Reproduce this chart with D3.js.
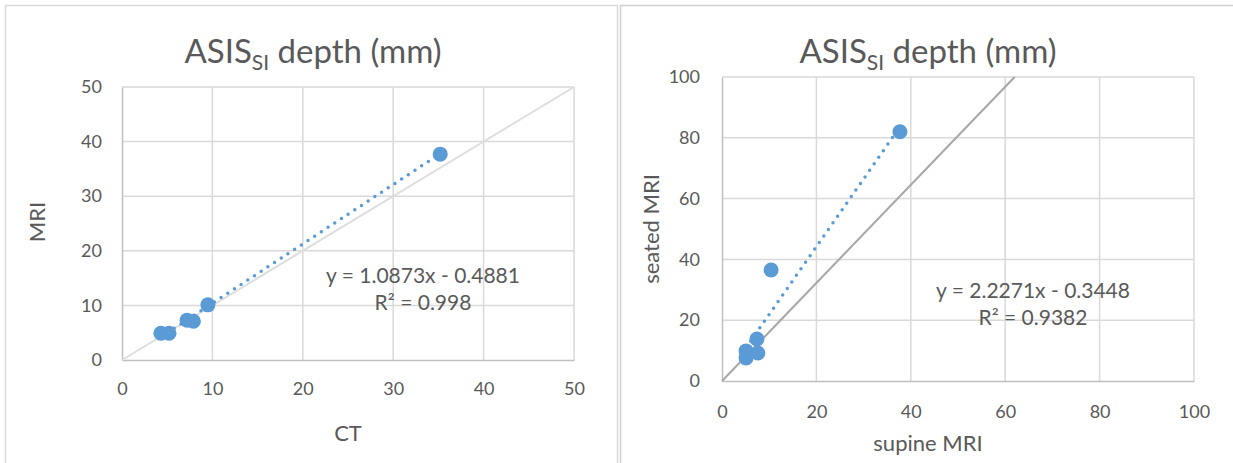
<!DOCTYPE html>
<html>
<head>
<meta charset="utf-8">
<script src="https://cdn.jsdelivr.net/npm/d3@7"></script>
<style>
  body { margin: 0; background: #fff; }
  svg { display: block; font-family: Lato, "Open Sans", sans-serif; }
</style>
</head>
<body>
<div id="chart"></div>
<script>
const width = 1233;
const height = 463;

// left panel: CT vs MRI
const ctValues = [4.3, 5.2, 7.2, 7.9, 9.5, 35.2];
const mriValues = [4.9, 4.9, 7.3, 7.1, 10.1, 37.7];
const leftTicks = [0, 10, 20, 30, 40, 50];
const leftRefLine = [[0, 0], [50, 50]];

// right panel: supine vs seated MRI
const supineValues = [5.1, 5.1, 7.4, 7.6, 10.4, 37.7];
const seatedValues = [9.9, 7.6, 13.8, 9.2, 36.5, 82.0];
const rightTicks = [0, 20, 40, 60, 80, 100];
const rightRefLine = [[0, 0], [62, 100]];

const trendSlopes = [1.0873, 2.2271];
const trendIntercepts = [-0.4881, -0.3448];
const equationLabels = ["y = 1.0873x - 0.4881", "y = 2.2271x - 0.3448"];
const r2Values = ["0.998", "0.9382"];

const textColor = "#595959";
const pointColor = "#5b9bd5";

const svg = d3.create("svg")
    .attr("width", width)
    .attr("height", height);

// chart frames
svg.append("rect")
    .attr("x", 5.5).attr("y", 5.5)
    .attr("width", 612).attr("height", 480)
    .attr("fill", "none").attr("stroke", "#d9d9d9").attr("stroke-width", 1.5);
svg.append("rect")
    .attr("x", 620.5).attr("y", 5.5)
    .attr("width", 640).attr("height", 480)
    .attr("fill", "none").attr("stroke", "#d0d0d0").attr("stroke-width", 1.5);

function drawPanel(p) {
    const x = d3.scaleLinear().domain(p.domain).range(p.xRange);
    const y = d3.scaleLinear().domain(p.domain2).range(p.yRange);
    const g = svg.append("g");

    // gridlines
    g.selectAll(".vgrid")
        .data(p.xTicks.slice(1))
        .join("line")
        .attr("x1", d => x(d)).attr("x2", d => x(d))
        .attr("y1", p.yRange[0]).attr("y2", p.yRange[1])
        .attr("stroke", "#d9d9d9").attr("stroke-width", 1.5);
    g.selectAll(".hgrid")
        .data(p.yTicks.slice(1))
        .join("line")
        .attr("x1", p.xRange[0]).attr("x2", p.xRange[1])
        .attr("y1", d => y(d)).attr("y2", d => y(d))
        .attr("stroke", "#d9d9d9").attr("stroke-width", 1.5);

    // axes
    const xAxis = g.append("g")
        .attr("transform", `translate(0,${p.yRange[0]})`)
        .call(d3.axisBottom(x).tickValues(p.xTicks).tickSize(0).tickPadding(p.xPad));
    const yAxis = g.append("g")
        .attr("transform", `translate(${p.xRange[0]},0)`)
        .call(d3.axisLeft(y).tickValues(p.yTicks).tickSize(0).tickPadding(p.yPad));
    [xAxis, yAxis].forEach(a => {
        a.select(".domain").attr("stroke", "#bfbfbf").attr("stroke-width", 1.5);
        a.selectAll("text")
            .attr("fill", textColor)
            .attr("font-size", "18px")
            .attr("font-family", "Lato, sans-serif");
    });

    // reference line
    g.append("line")
        .attr("x1", x(p.refLine[0][0])).attr("y1", y(p.refLine[0][1]))
        .attr("x2", x(p.refLine[1][0])).attr("y2", y(p.refLine[1][1]))
        .attr("stroke", p.refColor).attr("stroke-width", 2);

    // trendline
    const xs = p.xs;
    const x0 = d3.min(xs), x1 = d3.max(xs);
    g.append("line")
        .attr("x1", x(x0)).attr("y1", y(p.slope * x0 + p.intercept))
        .attr("x2", x(x1)).attr("y2", y(p.slope * x1 + p.intercept))
        .attr("stroke", pointColor).attr("stroke-width", 3.5)
        .attr("stroke-linecap", "round")
        .attr("stroke-dasharray", "0 8");

    // points
    g.selectAll("circle")
        .data(xs.map((v, i) => [v, p.ys[i]]))
        .join("circle")
        .attr("cx", d => x(d[0]))
        .attr("cy", d => y(d[1]))
        .attr("r", 7.5)
        .attr("fill", pointColor);

    // title
    const title = svg.append("text")
        .attr("x", p.titleX).attr("y", 63)
        .attr("text-anchor", "middle")
        .attr("fill", textColor)
        .attr("font-size", "33px");
    title.append("tspan").text("ASIS");
    title.append("tspan").attr("font-size", "21px").attr("dy", 7).text("SI");
    title.append("tspan").attr("dy", -7).text(" depth (mm)");

    // axis titles
    svg.append("text")
        .attr("x", p.xTitle[0]).attr("y", p.xTitle[1])
        .attr("text-anchor", "middle")
        .attr("fill", textColor)
        .attr("font-size", "22px")
        .text(p.xLabel);
    svg.append("text")
        .attr("transform", `translate(${p.yTitle[0]},${p.yTitle[1]}) rotate(-90)`)
        .attr("text-anchor", "middle")
        .attr("fill", textColor)
        .attr("font-size", "22px")
        .text(p.yLabel);

    // equation
    const eq = svg.append("text")
        .attr("text-anchor", "middle")
        .attr("fill", textColor)
        .attr("font-size", "21px");
    eq.append("tspan").attr("x", p.eqPos[0]).attr("y", p.eqPos[1]).text(p.equation);
    eq.append("tspan").attr("x", p.eqPos[0]).attr("y", p.eqPos[1] + 27).text(`R² = ${p.r2}`);
}

drawPanel({
    domain: [0, 50], domain2: [0, 50],
    xRange: [122, 574], yRange: [360, 87],
    xTicks: leftTicks, yTicks: leftTicks,
    xPad: 22, yPad: 20,
    xs: ctValues, ys: mriValues,
    refLine: leftRefLine, refColor: "#dedede",
    slope: trendSlopes[0], intercept: trendIntercepts[0],
    titleX: 313,
    xLabel: "CT", xTitle: [348, 441],
    yLabel: "MRI", yTitle: [45, 222],
    equation: equationLabels[0], r2: r2Values[0], eqPos: [423, 283]
});

drawPanel({
    domain: [0, 100], domain2: [0, 100],
    xRange: [722, 1194], yRange: [381, 77],
    xTicks: rightTicks, yTicks: rightTicks,
    xPad: 24, yPad: 22,
    xs: supineValues, ys: seatedValues,
    refLine: rightRefLine, refColor: "#a6a6a6",
    slope: trendSlopes[1], intercept: trendIntercepts[1],
    titleX: 928,
    xLabel: "supine MRI", xTitle: [928, 451],
    yLabel: "seated MRI", yTitle: [659, 229],
    equation: equationLabels[1], r2: r2Values[1], eqPos: [1033, 298]
});

d3.select("#chart").append(() => svg.node());
</script>
</body>
</html>
